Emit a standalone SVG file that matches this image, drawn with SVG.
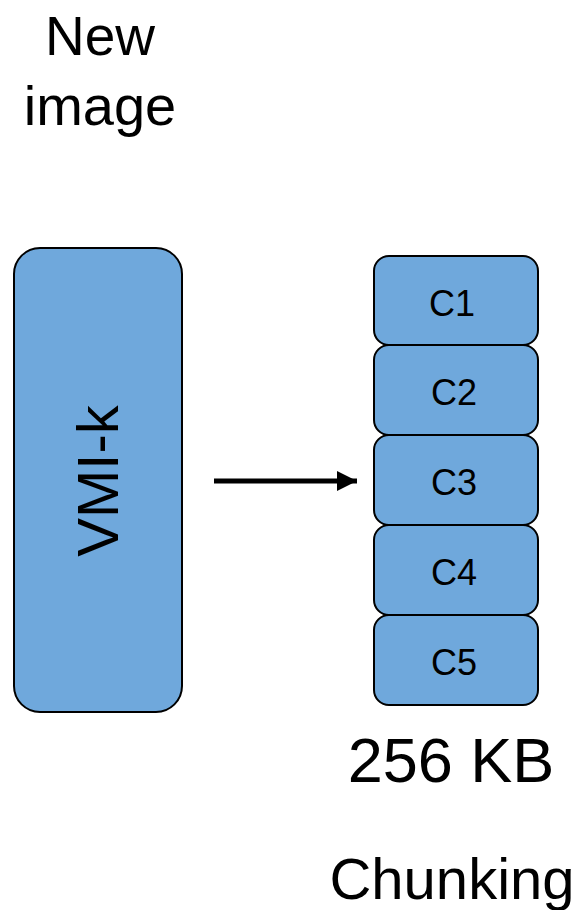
<svg xmlns="http://www.w3.org/2000/svg" width="580" height="910" viewBox="0 0 580 910">
  <style>
    .box { fill: #6fa8dc; stroke: #000; stroke-width: 2; }
    .lbl { font-family: "Liberation Sans", Arial, sans-serif; fill: #000; text-anchor: middle; }
    .chunk { font-size: 36px; }
  </style>
  <defs>
    <marker id="arrow" viewBox="0 0 10 10" refX="10" refY="5" markerWidth="4.2" markerHeight="4" markerUnits="strokeWidth" orient="auto">
      <path d="M0,0 L10,5 L0,10 z" fill="#000"/>
    </marker>
  </defs>
  <rect width="580" height="910" fill="#fff"/>

  <g id="title">
    <text class="lbl" x="100" y="55" font-size="55">New</text>
    <text class="lbl" x="100" y="125" font-size="56">image</text>
  </g>

  <g id="vmi">
    <rect class="box" x="14" y="248" width="168" height="464" rx="26"/>
    <text class="lbl" font-size="58" transform="translate(118,481) rotate(-90)">VMI-k</text>
  </g>

  <g id="connectors">
    <line x1="214" y1="481" x2="357" y2="481" stroke="#000" stroke-width="5" marker-end="url(#arrow)"/>
  </g>

  <g id="c1">
    <rect class="box" x="374" y="256" width="164" height="89" rx="15"/>
    <text class="lbl chunk" x="452" y="316">C1</text>
  </g>
  <g id="c2">
    <rect class="box" x="374" y="345" width="164" height="90" rx="15"/>
    <text class="lbl chunk" x="454" y="405">C2</text>
  </g>
  <g id="c3">
    <rect class="box" x="374" y="435" width="164" height="90" rx="15"/>
    <text class="lbl chunk" x="454" y="495">C3</text>
  </g>
  <g id="c4">
    <rect class="box" x="374" y="525" width="164" height="90" rx="15"/>
    <text class="lbl chunk" x="454" y="585">C4</text>
  </g>
  <g id="c5">
    <rect class="box" x="374" y="615" width="164" height="90" rx="15"/>
    <text class="lbl chunk" x="454" y="675">C5</text>
  </g>

  <g id="size">
    <text class="lbl" x="451" y="782" font-size="63">256 KB</text>
  </g>
  <g id="caption">
    <text class="lbl" x="452" y="899" font-size="58">Chunking</text>
  </g>
</svg>
